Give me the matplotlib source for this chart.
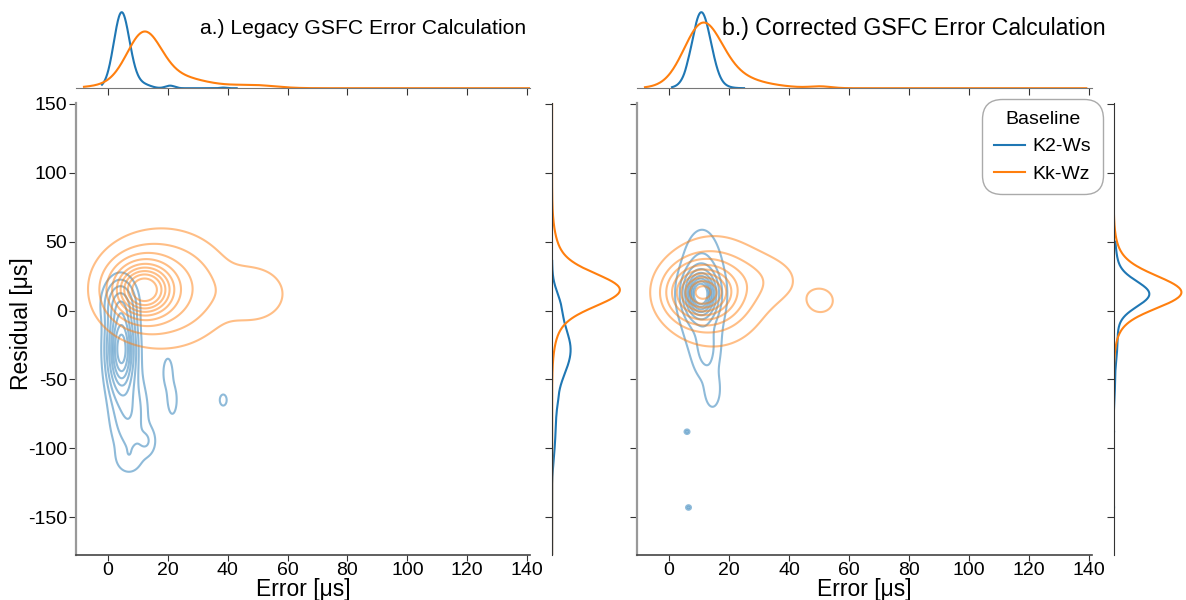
import numpy as np
import matplotlib
matplotlib.use("Agg")
import matplotlib.pyplot as plt
from matplotlib.lines import Line2D

plt.rcParams['font.family'] = ['Liberation Sans', 'DejaVu Sans']

series = ['K2-Ws', 'Kk-Wz']
colors = ['#1f77b4', '#ff7f0e']
sample_share = [1.0, 2.0]
titles = ['a.) Legacy GSFC Error Calculation', 'b.) Corrected GSFC Error Calculation']
title_sizes = [15.2, 16.7]
title_right = [0.991, 1.029]

# blobs (error, residual, spread error, spread residual, weight)
legacy_k2_cx = [4.5, 4, 7, 13, 7, 20, 21.5, 38.5]
legacy_k2_cy = [-28, 5, -75, -95, -108, -45, -65, -65]
legacy_k2_sx = [2.5, 3, 3.5, 2, 3, 1.3, 1.3, 1.0]
legacy_k2_sy = [18, 10, 18, 7, 7, 9, 9, 3.5]
legacy_k2_w = [0.62, 0.1, 0.12, 0.012, 0.012, 0.008, 0.008, 0.0025]

legacy_kk_cx = [12, 18, 49]
legacy_kk_cy = [15, 16, 12]
legacy_kk_sx = [5.5, 12, 7]
legacy_kk_sy = [11, 22, 13]
legacy_kk_w = [0.5, 0.35, 0.04]

corr_k2_cx = [10.5, 11, 12.5, 14.5, 6, 6.5]
corr_k2_cy = [12, 12, -30, -58, -88, -143]
corr_k2_sx = [2.8, 4, 2.5, 1.8, 0.5, 0.5]
corr_k2_sy = [9, 24, 12, 9, 1.0, 1.0]
corr_k2_w = [0.55, 0.3, 0.05, 0.018, 0.0009, 0.0009]

corr_kk_cx = [11, 15, 30, 50.5]
corr_kk_cy = [13, 14, 22, 7]
corr_kk_sx = [6, 9, 9, 3.5]
corr_kk_sy = [11, 20, 12, 7]
corr_kk_w = [0.55, 0.3, 0.05, 0.011]

# extent of each marginal curve
legacy_k2_xspan = [-2, 43]
legacy_k2_yspan = [-178, 36]
legacy_kk_xspan = [-8, 141]
legacy_kk_yspan = [-178, 150]
corr_k2_xspan = [1, 25]
corr_k2_yspan = [-178, 50]
corr_kk_xspan = [-8, 139]
corr_kk_yspan = [-178, 150]

panels = [
    [(legacy_k2_cx, legacy_k2_cy, legacy_k2_sx, legacy_k2_sy, legacy_k2_w, legacy_k2_xspan, legacy_k2_yspan),
     (legacy_kk_cx, legacy_kk_cy, legacy_kk_sx, legacy_kk_sy, legacy_kk_w, legacy_kk_xspan, legacy_kk_yspan)],
    [(corr_k2_cx, corr_k2_cy, corr_k2_sx, corr_k2_sy, corr_k2_w, corr_k2_xspan, corr_k2_yspan),
     (corr_kk_cx, corr_kk_cy, corr_kk_sx, corr_kk_sy, corr_kk_w, corr_kk_xspan, corr_kk_yspan)],
]

xlim = (-10.7, 141)
ylim = (-177.5, 150.5)
xticks = np.arange(0, 141, 20)
yticks = np.arange(-150, 151, 50)

rects = [
    ([0.064, 0.075, 0.383, 0.753], [0.064, 0.853, 0.383, 0.133], [0.4655, 0.075, 0.06, 0.753]),
    ([0.537, 0.075, 0.384, 0.753], [0.537, 0.853, 0.384, 0.133], [0.939, 0.075, 0.06, 0.753]),
]


def dens2d(cx, cy, sx, sy, w, X, Y):
    z = np.zeros_like(X)
    tot = sum(w)
    for a, b, s, t, k in zip(cx, cy, sx, sy, w):
        z += k / tot / (2 * np.pi * s * t) * np.exp(-0.5 * (((X - a) / s) ** 2 + ((Y - b) / t) ** 2))
    return z


def dens1d(c, s, w, g):
    z = np.zeros_like(g)
    tot = sum(w)
    for a, b, k in zip(c, s, w):
        z += k / tot / (np.sqrt(2 * np.pi) * b) * np.exp(-0.5 * ((g - a) / b) ** 2)
    return z


def iso_levels(dens, props):
    vals = np.concatenate([d.ravel() for d in dens])
    sv = np.sort(vals)[::-1]
    cum = np.cumsum(sv) / vals.sum()
    idx = np.searchsorted(cum, 1 - props)
    lv = np.take(sv, idx, mode='clip')
    return np.unique(lv[lv < sv[0]])


gx = np.linspace(-12, 145, 700)
gy = np.linspace(-180, 152, 700)
X, Y = np.meshgrid(gx, gy)
share = np.array(sample_share) / sum(sample_share)

fig = plt.figure(figsize=(11.86, 6), dpi=100)

for p, comps in enumerate(panels):
    r_main, r_top, r_right = rects[p]
    ax = fig.add_axes(r_main)
    axt = fig.add_axes(r_top, sharex=ax)
    axr = fig.add_axes(r_right, sharey=ax)

    dens = [share[i] * dens2d(c[0], c[1], c[2], c[3], c[4], X, Y) for i, c in enumerate(comps)]
    levels = iso_levels(dens, np.linspace(0.05, 1, 10))
    for i, c in enumerate(comps):
        ax.contour(X, Y, dens[i], levels=levels, colors=colors[i], alpha=0.5, linewidths=1.5)
        tx = np.linspace(c[5][0], c[5][1], 500)
        axt.plot(tx, share[i] * dens1d(c[0], c[2], c[4], tx), color=colors[i], lw=1.5)
        ty = np.linspace(c[6][0], c[6][1], 500)
        axr.plot(share[i] * dens1d(c[1], c[3], c[4], ty), ty, color=colors[i], lw=1.5)

    ax.set_xlim(*xlim)
    ax.set_ylim(*ylim)
    ax.set_xticks(xticks)
    ax.set_yticks(yticks)
    ax.set_yticklabels([str(v) for v in yticks])
    for s in ['top', 'right']:
        ax.spines[s].set_visible(False)
    ax.spines['left'].set_color('#999999')
    ax.spines['left'].set_linewidth(1.6)
    ax.spines['bottom'].set_color('#444444')
    ax.spines['bottom'].set_linewidth(1.2)
    ax.tick_params(labelsize=14, length=5, pad=1.5, color='#333333')
    ax.tick_params(axis='x', length=4, pad=1)
    ax.set_xlabel('Error [μs]', fontsize=16.5, labelpad=-1)
    if p == 0:
        ax.set_ylabel('Residual [μs]', fontsize=16.5)
        ax.yaxis.set_label_coords(-0.095, 0.513)
    else:
        ax.tick_params(axis='y', labelleft=False)

    axt.set_ylim(bottom=0)
    for s in ['top', 'right', 'left']:
        axt.spines[s].set_visible(False)
    axt.spines['bottom'].set_color('#777777')
    axt.tick_params(axis='x', labelbottom=False, length=5, color='#333333')
    axt.tick_params(axis='y', left=False, labelleft=False)
    axt.text(title_right[p], 0.75, titles[p], transform=axt.transAxes, ha='right', va='center',
             fontsize=title_sizes[p])

    axr.set_xlim(left=0)
    for s in ['top', 'right', 'bottom']:
        axr.spines[s].set_visible(False)
    axr.spines['left'].set_color('#333333')
    axr.tick_params(axis='y', labelleft=False, length=5, color='#333333')
    axr.tick_params(axis='x', bottom=False, labelbottom=False)

    if p == 1:
        handles = [Line2D([], [], color=colors[i], lw=1.5) for i in range(2)]
        leg = ax.legend(handles, series, title='Baseline', loc='upper right',
                        bbox_to_anchor=(1.045, 1.03), fontsize=14, title_fontsize=14,
                        handlelength=1.6, handletextpad=0.4, borderpad=0.6,
                        fancybox=True, framealpha=1)
        leg.get_frame().set_edgecolor('#aaaaaa')
        leg.get_frame().set_boxstyle('round,pad=0,rounding_size=1.0')

fig.savefig('out.png', dpi=100)
